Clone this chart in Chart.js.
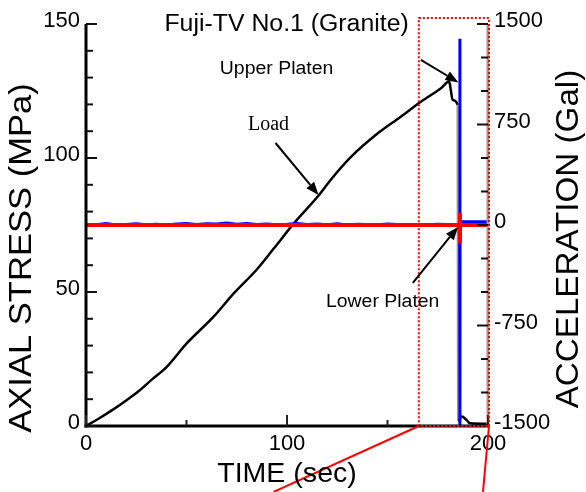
<!DOCTYPE html>
<html>
<head>
<meta charset="utf-8">
<script src="https://cdn.jsdelivr.net/npm/chart.js@4/dist/chart.umd.min.js"></script>
<style>
  body { margin: 0; background: #fff; }
  #wrap { width: 586px; height: 492px; position: relative; }
</style>
</head>
<body>
<div id="wrap"><canvas id="chart"></canvas></div>
<script>
// load curve (time in sec, axial stress in MPa)
const loadTime = [0, 6, 13.6, 20, 26.9, 33, 40.2, 50.2, 63.5, 73.5, 85.1, 93.4, 103.4, 115.5, 121.7, 131.7, 145.5, 156.6, 166.6, 176.6, 180.7, 181.5, 182.4, 184.9, 185.2, 187, 189, 191, 200];
const loadStress = [0, 2.6, 6.2, 9.5, 13.4, 17.5, 22.1, 30.9, 40.8, 49.5, 58.5, 66.2, 75.6, 85.8, 91.8, 100.3, 109.4, 115.4, 121, 126, 128.5, 125.4, 121.6, 119.8, 2, 3.5, 2.5, 1, 0.8];

// upper platen acceleration (Gal)
const upperTime = [0, 5, 10, 15, 20, 25, 30, 35, 40, 45, 50, 55, 60, 65, 70, 75, 80, 85, 90, 95, 100, 105, 110, 115, 120, 125, 130, 135, 140, 145, 150, 155, 160, 165, 170, 175, 180, 185.9, 186, 186.05, 186.1, 200];
const upperAcc = [0, 2, 12, 0, 4, 10, 2, 6, 0, 8, 12, 4, 10, 8, 14, 6, 12, 4, 8, 2, 6, 12, 4, 8, 2, 10, 0, 6, 4, 2, 8, 4, 2, 4, 2, 6, 4, 2, 1390, -1500, 25, 25];

// lower platen acceleration (Gal)
const lowerTime = [0, 185.9, 186, 186.05, 186.1, 200];
const lowerAcc = [0, 0, 93, -138, 0, 0];

const xTicks = [0, 100, 200];
const stressTicks = [0, 50, 100, 150];
const accTicks = [-1500, -750, 0, 750, 1500];

const FONT = "'Liberation Sans', Arial, sans-serif";

function pts(xs, ys) { return xs.map((t, i) => ({ x: t, y: ys[i] })); }

function line(ctx, x1, y1, x2, y2, color, w) {
  ctx.beginPath();
  ctx.moveTo(x1, y1);
  ctx.lineTo(x2, y2);
  ctx.strokeStyle = color;
  ctx.lineWidth = w;
  ctx.stroke();
}

function arrow(ctx, x1, y1, x2, y2) {
  const ang = Math.atan2(y2 - y1, x2 - x1);
  const hl = 13, hw = 5;
  const bx = x2 - hl * Math.cos(ang), by = y2 - hl * Math.sin(ang);
  line(ctx, x1, y1, bx, by, '#000', 2);
  ctx.beginPath();
  ctx.moveTo(x2, y2);
  ctx.lineTo(bx + hw * Math.sin(ang), by - hw * Math.cos(ang));
  ctx.lineTo(bx - hw * Math.sin(ang), by + hw * Math.cos(ang));
  ctx.closePath();
  ctx.fillStyle = '#000';
  ctx.fill();
}

function txt(ctx, s, x, y, font, rot, sx) {
  ctx.save();
  ctx.translate(x, y);
  ctx.rotate(rot);
  ctx.scale(sx, 1);
  ctx.font = font;
  ctx.textAlign = 'center';
  ctx.textBaseline = 'middle';
  ctx.fillStyle = '#000';
  ctx.fillText(s, 0, 0);
  ctx.restore();
}

// axes, inward ticks, labels, arrows and the zoom box
const decor = {
  id: 'decor',
  afterDatasetsDraw(chart) {
    const { ctx, chartArea: a, scales } = chart;
    const x = scales.x, y = scales.y, y2 = scales.y2;
    const px = v => x.getPixelForValue(v), py = v => y.getPixelForValue(v);
    ctx.save();

    line(ctx, a.left, a.top, a.left, a.bottom + 1.5, '#000', 3);
    line(ctx, a.right, a.top, a.right, a.bottom, '#9a9a9a', 3);
    line(ctx, a.left - 1.5, a.bottom, a.right, a.bottom, '#000', 3);

    x.ticks.forEach(t => {
      const p = px(t.value), L = xTicks.includes(t.value) ? 11 : 6;
      line(ctx, p, a.bottom, p, a.bottom - L, '#222', 2);
    });
    y.ticks.forEach(t => {
      const p = py(t.value), L = stressTicks.includes(t.value) ? 11 : 7;
      line(ctx, a.left, p, a.left + L, p, '#111', 2);
    });
    y2.ticks.forEach(t => {
      const p = y2.getPixelForValue(t.value), L = accTicks.includes(t.value) ? 11 : 7;
      line(ctx, a.right, p, a.right - L, p, '#111', 2);
    });

    // zoom box with callout lines
    ctx.setLineDash([2, 2]);
    ctx.strokeStyle = '#ff0000';
    ctx.lineWidth = 2;
    ctx.strokeRect(px(165.6), py(152.2), px(200) - px(165.6) + 1, py(0) - py(152.2));
    ctx.setLineDash([]);
    line(ctx, px(165.6), py(0), px(93.3), py(-24.6), '#ff0000', 2);
    line(ctx, px(200) + 1, py(0), px(197.5), py(-24.6), '#ff0000', 2);

    // titles and labels
    txt(ctx, 'Fuji-TV No.1 (Granite)', px(99.8), py(149.6), '23px ' + FONT, 0, 1.08);
    txt(ctx, 'Upper Platen', px(94.8), py(133.2), '18px ' + FONT, 0, 1.08);
    txt(ctx, 'Load', px(90.8), py(112.3), "20px 'Liberation Serif', 'Times New Roman', serif", 0, 1);
    txt(ctx, 'Lower Platen', px(147.6), py(46.3), '18px ' + FONT, 0, 1.08);

    arrow(ctx, px(94.3), py(105.6), px(115.7), py(86.2));
    arrow(ctx, px(166.6), py(136.6), px(185.3), py(128.2));
    arrow(ctx, px(162.6), py(53.4), px(185.1), py(74.3));

    txt(ctx, 'TIME (sec)', (a.left + a.right) / 2, 474, '28px ' + FONT, 0, 1.02);
    txt(ctx, 'AXIAL STRESS (MPa)', 22, 258, '32px ' + FONT, -Math.PI / 2, 1.08);
    txt(ctx, 'ACCELERATION (Gal)', 569, 239, '31px ' + FONT, -Math.PI / 2, 1.07);

    ctx.restore();
  }
};

new Chart(document.getElementById('chart'), {
  type: 'scatter',
  data: {
    datasets: [
      {
        label: 'Lower Platen',
        data: pts(lowerTime, lowerAcc),
        yAxisID: 'y2',
        showLine: true,
        borderColor: '#ff0000',
        borderWidth: 4,
        pointRadius: 0,
        tension: 0
      },
      {
        label: 'Upper Platen',
        data: pts(upperTime, upperAcc),
        yAxisID: 'y2',
        showLine: true,
        borderColor: '#0000ff',
        borderWidth: 3,
        pointRadius: 0,
        tension: 0
      },
      {
        label: 'Load',
        data: pts(loadTime, loadStress),
        yAxisID: 'y',
        showLine: true,
        borderColor: '#000',
        borderWidth: 2.5,
        pointRadius: 0,
        cubicInterpolationMode: 'monotone',
        segment: {
          borderColor: c => (c.p0.parsed.y - c.p1.parsed.y > 50 ? '#9a9a9a' : undefined)
        }
      }
    ]
  },
  options: {
    responsive: true,
    maintainAspectRatio: false,
    animation: false,
    layout: { padding: { top: 24, left: 0, right: 0, bottom: 0 } },
    plugins: { legend: { display: false }, tooltip: { enabled: false }, title: { display: false } },
    scales: {
      x: {
        type: 'linear',
        min: 0,
        max: 200,
        grid: { display: false, drawTicks: false },
        border: { display: false },
        afterFit: s => { s.height = 66; },
        ticks: {
          stepSize: 50,
          autoSkip: false,
          maxRotation: 0,
          padding: 5,
          color: '#000',
          font: { family: FONT, size: 22 },
          callback: v => (xTicks.includes(v) ? String(v) : '')
        }
      },
      y: {
        position: 'left',
        min: 0,
        max: 150,
        grid: { display: false, drawTicks: false },
        border: { display: false },
        afterFit: s => { s.width = 86; },
        ticks: {
          stepSize: 10,
          autoSkip: false,
          padding: 6,
          labelOffset: -3,
          color: '#000',
          font: { family: FONT, size: 22 },
          callback: v => (stressTicks.includes(v) ? String(v) : '')
        }
      },
      y2: {
        position: 'right',
        min: -1500,
        max: 1500,
        grid: { display: false, drawTicks: false },
        border: { display: false },
        afterFit: s => { s.width = 98; },
        ticks: {
          stepSize: 250,
          autoSkip: false,
          padding: 6,
          labelOffset: -3,
          color: '#000',
          font: { family: FONT, size: 22 },
          callback: v => (accTicks.includes(v) ? String(v) : '')
        }
      }
    }
  },
  plugins: [decor]
});
</script>
</body>
</html>
